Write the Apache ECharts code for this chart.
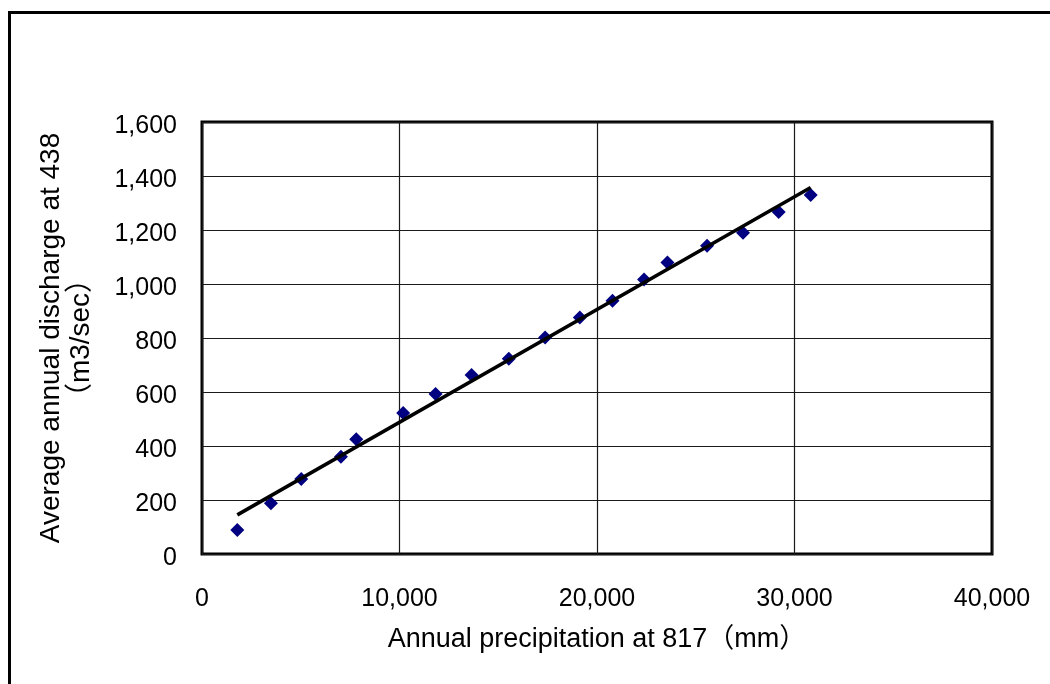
<!DOCTYPE html>
<html>
<head>
<meta charset="utf-8">
<script src="https://cdn.jsdelivr.net/npm/echarts@6/dist/echarts.min.js"></script>
<style>
  html, body { margin: 0; padding: 0; background: #fff; }
  #chart { width: 1050px; height: 684px; }
</style>
</head>
<body>
<div id="chart"></div>
<script>
// Annual precipitation at station 817 (mm) vs average annual discharge at 438 (m3/sec)
const precipitation = [1787, 3492, 5026, 7034, 7810, 10187, 11826, 13648, 15536, 17374,
                       19130, 20784, 22384, 23568, 25572, 27394, 29200, 30820];
const discharge = [89, 188, 278, 360, 425, 522, 593, 663, 723, 802,
                   876, 938, 1017, 1080, 1142, 1190, 1267, 1330];

const xTitle = 'Annual precipitation at 817（mm）';
const yTitle = 'Average annual discharge at 438\n（m3/sec）';

// Least-squares linear trend through the observations
function linearFit(xs, ys) {
  const n = xs.length;
  const mx = xs.reduce((a, b) => a + b, 0) / n;
  const my = ys.reduce((a, b) => a + b, 0) / n;
  let sxy = 0, sxx = 0;
  for (let i = 0; i < n; i++) {
    sxy += (xs[i] - mx) * (ys[i] - my);
    sxx += (xs[i] - mx) * (xs[i] - mx);
  }
  const slope = sxy / sxx;
  return { slope, intercept: my - slope * mx };
}
const fit = linearFit(precipitation, discharge);
const xMin = Math.min(...precipitation);
const xMax = Math.max(...precipitation);
const trend = [[xMin, fit.intercept + fit.slope * xMin], [xMax, fit.intercept + fit.slope * xMax]];

const points = precipitation.map((x, i) => [x, discharge[i]]);
const fmt = v => v.toLocaleString('en-US');
const FONT = '"Liberation Sans", Arial, "Noto Sans CJK JP", sans-serif';

const chart = echarts.init(document.getElementById('chart'), null, { renderer: 'canvas' });
chart.setOption({
  backgroundColor: '#fff',
  animation: false,
  graphic: [{
    type: 'rect',
    shape: { x: 9.5, y: 12.5, width: 1200, height: 900 },
    style: { fill: 'none', stroke: '#000', lineWidth: 3 },
    silent: true
  }],
  grid: {
    left: 202, top: 122, right: 58, bottom: 130,
    show: true, borderColor: '#000', borderWidth: 3, backgroundColor: 'transparent'
  },
  xAxis: {
    type: 'value', min: 0, max: 40000, interval: 10000,
    name: xTitle, nameLocation: 'middle', nameGap: 72,
    nameTextStyle: { fontFamily: FONT, fontSize: 27, color: '#000' },
    axisLine: { show: false },
    axisTick: { show: false },
    axisLabel: { formatter: fmt, fontFamily: FONT, fontSize: 25, color: '#000', margin: 33 },
    splitLine: { show: true, lineStyle: { color: '#1a1a1a', width: 1.2 } }
  },
  yAxis: {
    type: 'value', min: 0, max: 1600, interval: 200,
    name: yTitle, nameLocation: 'middle', nameGap: 106, nameRotate: 90,
    nameTextStyle: { fontFamily: FONT, fontSize: 28, color: '#000', lineHeight: 30, align: 'center' },
    axisLine: { show: false },
    axisTick: { show: false },
    axisLabel: {
      // a thin spacer line above each value sets the label slightly below its gridline
      formatter: v => '{s| }\n{v|' + fmt(v) + '}',
      margin: 25,
      rich: {
        s: { fontSize: 1, lineHeight: 9 },
        v: { fontFamily: FONT, fontSize: 25, color: '#000', lineHeight: 28, align: 'right' }
      }
    },
    splitLine: { show: true, lineStyle: { color: '#1a1a1a', width: 1.2 } }
  },
  series: [
    {
      type: 'scatter',
      data: points,
      symbol: 'diamond',
      symbolSize: 14,
      itemStyle: { color: '#000080', opacity: 1 },
      z: 2
    },
    {
      type: 'line',
      data: trend,
      symbol: 'none',
      lineStyle: { color: '#000', width: 3.5 },
      z: 3
    }
  ]
});
</script>
</body>
</html>
